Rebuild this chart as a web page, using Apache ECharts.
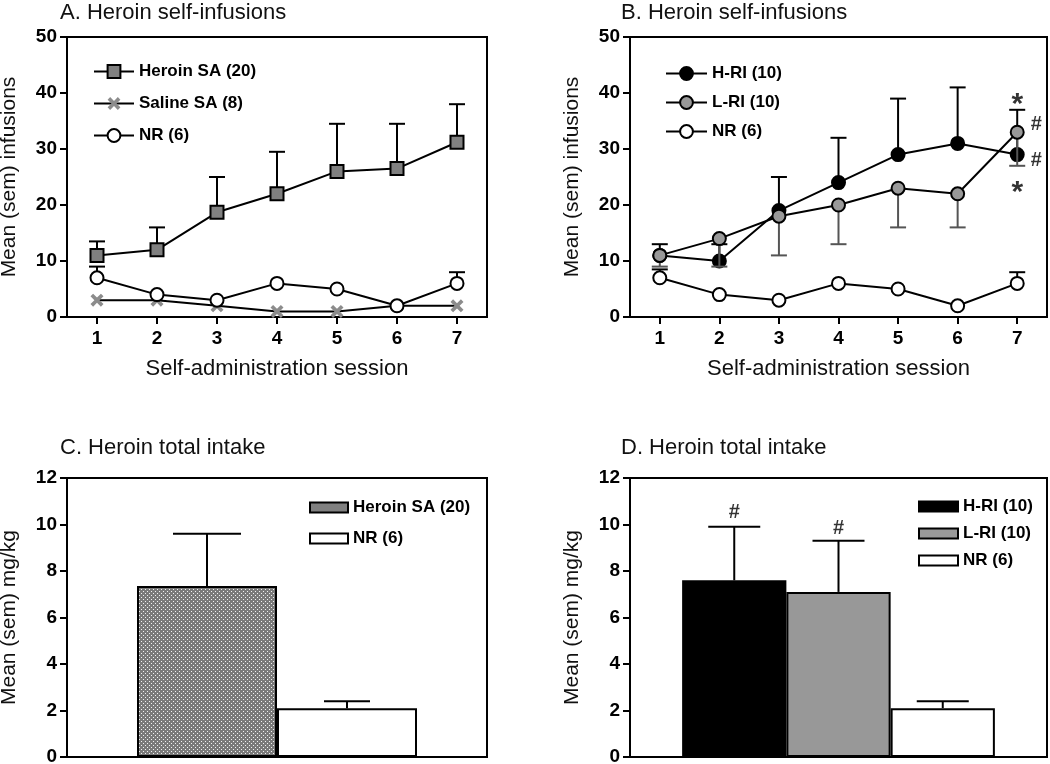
<!DOCTYPE html>
<html><head><meta charset="utf-8">
<script src="https://cdn.jsdelivr.net/npm/echarts@6.0.0/dist/echarts.min.js"></script>
<style>html,body{margin:0;padding:0;background:#fff}#c{width:1050px;height:764px}</style>
</head><body><div id="c"></div>
<script>
// ---------- DATA ----------
const sessions = ['1', '2', '3', '4', '5', '6', '7'];
// Panel A
const aHeroin = [11, 12, 18.7, 22, 26, 26.5, 31.2];
const aHeroinErrTop = [13.5, 16, 25, 29.5, 34.5, 34.5, 38];
const aSaline = [3, 3, 2, 1, 1, 2, 2];
const aNR = [7, 4, 3, 6, 5, 2, 6];
const aNRErrTop = [9, null, null, null, null, null, 8];
// Panel B
const bHRI = [11, 10, 19, 24, 29, 31, 29];
const bHRIErrTop = [13, 13, 25, 32, 39, 41, 37];
const bLRI = [11, 14, 18, 20, 23, 22, 33];
const bLRIErrBottom = [9, 9, 11, 13, 16, 16, 27];
const bNR = [7, 4, 3, 6, 5, 2, 6];
const bNRErrTop = [8.5, null, null, null, null, null, 8];
const bStarValues = [39.3, 23.6];      // '*' at session 7
const bHashValues = [34.3, 28];        // '#' beside session 7
// Panel C
const cGroups = ['Heroin SA (20)', 'NR (6)'];
const cMeans = [7.35, 2.1];
const cErrTop = [9.6, 2.4];
// Panel D
const dGroups = ['H-RI (10)', 'L-RI (10)', 'NR (6)'];
const dMeans = [7.6, 7.1, 2.1];
const dErrTop = [9.9, 9.3, 2.4];
const dHashValues = [10.5, 9.83, null];

// ---------- STYLE ----------
const FONT = "'Liberation Sans', Arial, sans-serif";
const txt = '#111';

function makeDots() {
  const cv = document.createElement('canvas');
  cv.width = 4; cv.height = 4;
  const g = cv.getContext('2d');
  g.fillStyle = '#7a7a7a'; g.fillRect(0, 0, 4, 4);
  g.fillStyle = '#f2f2f2';
  g.fillRect(1, 1, 1, 1); g.fillRect(3, 3, 1, 1);
  return cv;
}
const dotted = { image: makeDots(), repeat: 'repeat' };

const grids = [
  { left: 67, top: 37, width: 420, height: 280 },
  { left: 630, top: 37, width: 417, height: 280 },
  { left: 67, top: 478, width: 420, height: 279 },
  { left: 630, top: 478, width: 417, height: 279 }
].map(g => Object.assign(g, { show: true, borderColor: '#000', borderWidth: 2, backgroundColor: 'transparent', outerBoundsMode: 'none', containLabel: false }));

function yAxis(gi, max, interval, name) {
  return {
    type: 'value', gridIndex: gi, min: 0, max, interval,
    name, nameLocation: 'middle', nameGap: 47,
    nameTextStyle: { fontFamily: FONT, fontSize: 21, color: txt },
    axisLine: { show: true, lineStyle: { color: '#000', width: 2 } },
    axisTick: { show: true, length: 7, lineStyle: { color: '#000', width: 2 } },
    axisLabel: { fontFamily: FONT, fontSize: 19, fontWeight: 'bold', color: '#000', margin: 10 },
    splitLine: { show: false }
  };
}
function xAxisLine(gi) {
  return {
    type: 'category', gridIndex: gi, data: sessions, boundaryGap: true,
    name: 'Self-administration session', nameLocation: 'middle', nameGap: 41,
    nameTextStyle: { fontFamily: FONT, fontSize: 22, color: txt },
    axisLine: { show: true, lineStyle: { color: '#000', width: 2 } },
    axisTick: { show: true, alignWithLabel: true, length: 7, lineStyle: { color: '#000', width: 2 } },
    axisLabel: { fontFamily: FONT, fontSize: 19, fontWeight: 'bold', color: '#000', margin: 12 },
    splitLine: { show: false }
  };
}
function xAxisBar(gi, cats) {
  return {
    type: 'category', gridIndex: gi, data: cats, boundaryGap: false,
    axisLine: { show: true, lineStyle: { color: '#000', width: 2 } },
    axisTick: { show: false }, axisLabel: { show: false }, splitLine: { show: false }
  };
}

function errorSeries(ai, means, ends, color, capHalf, z, offset) {
  offset = offset || 0;
  const data = [];
  means.forEach((m, i) => { if (ends[i] != null) data.push([i + offset, m, ends[i]]); });
  return {
    type: 'custom', xAxisIndex: ai, yAxisIndex: ai, z, silent: true, data,
    encode: { x: 0, y: [1, 2] },
    renderItem(params, api) {
      const x = api.value(0);
      const p0 = api.coord([x, api.value(1)]);
      const p1 = api.coord([x, api.value(2)]);
      return { type: 'group', children: [
        { type: 'line', shape: { x1: p0[0], y1: p0[1], x2: p1[0], y2: p1[1] }, style: { stroke: color, lineWidth: 2 } },
        { type: 'line', shape: { x1: p1[0] - capHalf, y1: p1[1], x2: p1[0] + capHalf, y2: p1[1] }, style: { stroke: color, lineWidth: 2 } }
      ] };
    }
  };
}
function lineSeries(ai, name, data, symbol, size, fill, z, border) {
  return {
    type: 'line', name, xAxisIndex: ai, yAxisIndex: ai, data, z,
    symbol, symbolSize: size, showAllSymbol: true,
    lineStyle: { color: '#000', width: 2 },
    itemStyle: { color: fill, borderColor: border === undefined ? '#000' : border, borderWidth: border === null ? 0 : 2 },
    emphasis: { disabled: true }
  };
}
function textMarks(ai, xIdx, values, text, size, offset) {
  const data = [];
  values.forEach((v, i) => { if (v != null) data.push([Array.isArray(xIdx) ? xIdx[i] : xIdx, v]); });
  return {
    type: 'scatter', xAxisIndex: ai, yAxisIndex: ai, z: 10, silent: true,
    symbol: 'circle', symbolSize: 1, itemStyle: { color: 'rgba(0,0,0,0)' },
    label: { show: true, position: 'inside', formatter: text, offset,
      fontFamily: FONT, fontWeight: 'bold', fontSize: size, color: '#000' },
    data
  };
}

const crossPath = 'path://M0,2 L2,0 L5,3 L8,0 L10,2 L7,5 L10,8 L8,10 L5,7 L2,10 L0,8 L3,5 Z';

const cCats = [' ', ...cGroups, '  '];
const dCats = [' ', ...dGroups, '  '];
const cFills = [dotted, '#fff'];
const cCapHalf = [34, 23];
const dFills = ['#000', '#989898', '#fff'];

const legendText = { fontFamily: FONT, fontSize: 17, fontWeight: 'bold', color: '#000' };

const series = [
  // Panel A
  errorSeries(0, aHeroin, aHeroinErrTop, '#000', 8, 2),
  errorSeries(0, aNR, aNRErrTop, '#000', 8, 2),
  lineSeries(0, 'Saline SA (8)', aSaline, crossPath, 13, '#8c8c8c', 3, null),
  lineSeries(0, 'NR (6)', aNR, 'circle', 13, '#fff', 4),
  lineSeries(0, 'Heroin SA (20)', aHeroin, 'rect', 13, '#808080', 5),
  // Panel B
  errorSeries(1, bHRI, bHRIErrTop, '#000', 8, 2),
  lineSeries(1, 'H-RI (10)', bHRI, 'circle', 13, '#000', 3),
  errorSeries(1, bLRI, bLRIErrBottom, '#555', 8, 4),
  lineSeries(1, 'L-RI (10)', bLRI, 'circle', 13, '#999', 5),
  errorSeries(1, bNR, bNRErrTop, '#000', 8, 6),
  lineSeries(1, 'NR (6)', bNR, 'circle', 13, '#fff', 7),
  textMarks(1, 6, bStarValues, '*', 30, [0, 8]),
  textMarks(1, 6, bHashValues, '#', 20, [19, 0]),
  // Panel C
  ...cGroups.map((g, i) => ({
    type: 'bar', name: g, xAxisIndex: 2, yAxisIndex: 2, stack: 'c', barWidth: '100%', z: 2,
    data: cCats.map((c, j) => (j === i + 1 ? cMeans[i] : '-')),
    itemStyle: { color: cFills[i], borderColor: '#000', borderWidth: 2 },
    emphasis: { disabled: true }
  })),
  ...cGroups.map((g, i) => errorSeries(2, [cMeans[i]], [cErrTop[i]], '#000', cCapHalf[i], 3, i + 1)),
  // Panel D
  ...dGroups.map((g, i) => ({
    type: 'bar', name: g, xAxisIndex: 3, yAxisIndex: 3, stack: 'd', barWidth: '100%', z: 2,
    data: dCats.map((c, j) => (j === i + 1 ? dMeans[i] : '-')),
    itemStyle: { color: dFills[i], borderColor: '#000', borderWidth: 2 },
    emphasis: { disabled: true }
  })),
  errorSeries(3, dMeans, dErrTop, '#000', 26, 3, 1),
  textMarks(3, [1, 2, 3], dHashValues, '#', 20, [0, 0])
];

const option = {
  animation: false,
  backgroundColor: '#fff',
  title: [
    { text: 'A. Heroin self-infusions', left: 55, top: -3 },
    { text: 'B. Heroin self-infusions', left: 616, top: -3 },
    { text: 'C. Heroin total intake', left: 55, top: 432 },
    { text: 'D. Heroin total intake', left: 616, top: 432 }
  ].map(t => Object.assign(t, { textStyle: { fontFamily: FONT, fontSize: 22, fontWeight: 'normal', color: txt } })),
  grid: grids,
  xAxis: [xAxisLine(0), xAxisLine(1), xAxisBar(2, cCats), xAxisBar(3, dCats)],
  yAxis: [
    yAxis(0, 50, 10, 'Mean (sem) infusions'),
    yAxis(1, 50, 10, 'Mean (sem) infusions'),
    yAxis(2, 12, 2, 'Mean (sem) mg/kg'),
    yAxis(3, 12, 2, 'Mean (sem) mg/kg')
  ],
  legend: [
    { data: ['Heroin SA (20)', 'Saline SA (8)', 'NR (6)'], left: 88, top: 58, orient: 'vertical',
      itemWidth: 40, itemHeight: 16, itemGap: 15, textStyle: legendText, selectedMode: false },
    { data: ['H-RI (10)', 'L-RI (10)', 'NR (6)'], left: 660, top: 60, orient: 'vertical',
      itemWidth: 41, itemHeight: 16, itemGap: 12, textStyle: legendText, selectedMode: false },
    { data: cGroups, left: 304, top: 494, orient: 'vertical', icon: 'rect',
      itemWidth: 38, itemHeight: 10, itemGap: 14, textStyle: legendText, selectedMode: false },
    { data: dGroups, left: 913, top: 493, orient: 'vertical', icon: 'rect',
      itemWidth: 39, itemHeight: 10, itemGap: 10, textStyle: legendText, selectedMode: false }
  ],
  series
};

const chart = echarts.init(document.getElementById('c'), null, { renderer: 'canvas' });
chart.setOption(option);
</script>
</body></html>
